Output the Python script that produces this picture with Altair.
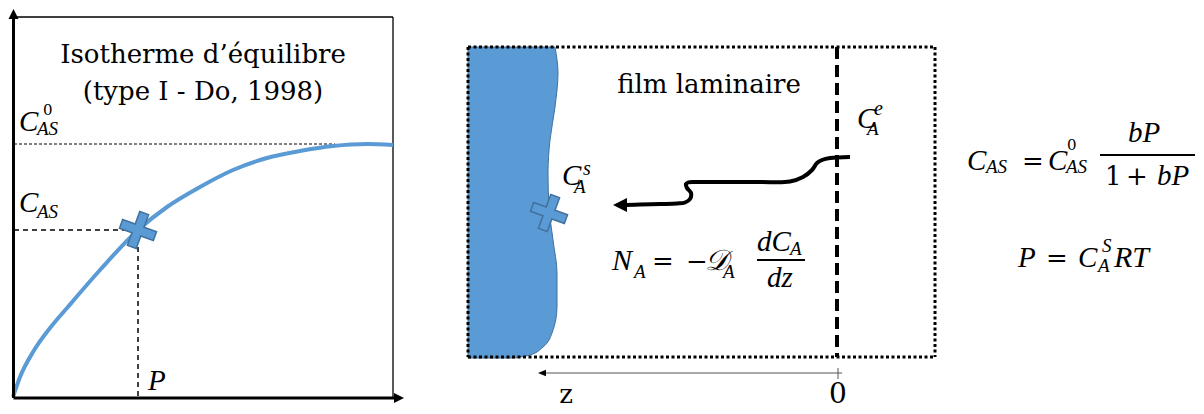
import altair as alt
import pandas as pd

W, H = 1188, 398
FONT = "DejaVu Serif"
MATH = "Liberation Serif"
BLUE = "#5B9BD5"
BLUE_EDGE = "#41719C"

# ---------------- data ----------------
# isotherm curve (left panel)
iso_x = [13, 20, 33, 50, 67, 100, 138, 167, 200, 233, 267, 300, 333, 367, 393]
iso_y = [397, 377, 352, 328, 308, 270, 230, 207, 187, 170, 158, 151, 146, 144, 145]

# adsorbent solid outline (right edge, top to bottom)
solid_y = [47, 73, 107, 140, 173, 207, 240, 273, 307, 333, 347, 355, 358]
solid_x = [555, 558, 555, 550, 548, 549, 553, 557, 557, 552, 543, 530, 515]
solid_left = 468

# concentration profile arrow (right to left)
arr_x = [850, 830, 822, 817, 812, 803, 790, 760, 720, 695, 688, 686, 687, 691, 690, 685, 677, 660, 640, 626]
arr_y = [157, 158, 160, 163, 170, 177, 181.5, 182, 182, 182, 182.5, 184, 188, 193, 199, 202.5, 203.5, 204, 204.5, 205]

# markers (crosses)
cross_x = [138, 549]
cross_y = [230, 213]

# line segments
thick_seg = dict(x=[13.5, 13.5], y=[398, 398], x2=[13.5, 396], y2=[17, 398])
box_seg = dict(x=[13.5, 393], y=[17, 17], x2=[393, 393], y2=[17, 398])
fine_dot_seg = dict(x=[14], y=[144], x2=[335], y2=[144])
dash_seg = dict(x=[14, 138], y=[230, 238], x2=[128, 138], y2=[230, 398])
rect_seg = dict(x=[468, 468, 468, 935], y=[47, 357, 47, 47], x2=[935, 935, 468, 935], y2=[47, 357, 357, 357])
interface_seg = dict(x=[837], y=[47], x2=[837], y2=[357])
zaxis_seg = dict(x=[543, 838], y=[373, 368], x2=[842, 838], y2=[373, 379])
frac_seg = dict(x=[757, 1100], y=[260, 155], x2=[805, 1195], y2=[260, 155])

# arrow heads
head_up = dict(x=[13.5], y=[14])
head_right = dict(x=[399], y=[398])
head_left_big = dict(x=[620], y=[205])
head_left_small = dict(x=[542], y=[373])

# text: italic math pieces (left aligned, baseline)
it_text = ["C", "AS", "C", "AS", "P",
           "C", "s", "A",
           "C", "e", "A",
           "N", "A", "𝒟", "A", "dC", "A", "dz",
           "C", "AS", "C", "AS", "bP", "bP",
           "P", "C", "S", "A", "RT"]
it_x = [19, 37, 19, 37, 148,
        562, 583, 574,
        857, 874, 867,
        612, 634, 705, 723, 757, 790, 767,
        967, 986, 1048, 1066, 1128, 1157,
        1018, 1078, 1102, 1098, 1114]
it_y = [131, 135, 212, 218, 390,
        185, 175, 193,
        128, 115, 135,
        270, 278, 270, 278, 251, 255, 287,
        170, 173, 170, 173, 142, 185,
        267, 267, 252, 272, 267]
it_size = [29, 19, 29, 19, 29,
           29, 20, 19,
           29, 20, 19,
           30, 19, 29, 19, 29, 19, 29,
           29, 19, 29, 19, 29, 29,
           29, 29, 19, 19, 30]

# upright pieces (left aligned)
up_text = ["0", "=", "−", "=", "0", "1", "+", "="]
up_x = [43, 652, 686, 1022, 1067, 1105, 1126, 1046]
up_y = [115, 270, 270, 170, 150, 185, 185, 267]
up_size = [15, 26, 26, 26, 15, 26, 26, 26]

# upright centred text
ct_text = ["Isotherme d’équilibre", "(type I - Do, 1998)", "film laminaire", "z", "0"]
ct_x = [203, 203, 709, 566, 838]
ct_y = [63, 100, 93, 403, 403]
ct_size = [26, 26, 26, 26, 28]

# ---------------- chart ----------------
xs = alt.Scale(domain=[8, 8 + W])
ys = alt.Scale(domain=[8, 8 + H], reverse=True)


def X(f="x"):
    return alt.X(f"{f}:Q", scale=xs, axis=None)


def Y(f="y"):
    return alt.Y(f"{f}:Q", scale=ys, axis=None)


def rules(seg, **kw):
    return alt.Chart(pd.DataFrame(seg)).mark_rule(**kw).encode(
        x=X("x"), y=Y("y"), x2="x2:Q", y2="y2:Q")


def head(pos, path, size, color="black"):
    return alt.Chart(pd.DataFrame(pos)).mark_point(
        shape=path, size=size, filled=True, color=color, opacity=1, strokeWidth=0
    ).encode(x=X(), y=Y())


layers = []

# left panel
layers.append(rules(box_seg, color="black", strokeWidth=1.3))
layers.append(rules(fine_dot_seg, color="black", strokeWidth=1, strokeDash=[3, 2]))
layers.append(rules(dash_seg, color="black", strokeWidth=1.5, strokeDash=[5, 4]))
layers.append(alt.Chart(pd.DataFrame({"x": iso_x, "y": iso_y})).mark_line(
    color=BLUE, strokeWidth=4, interpolate="monotone").encode(x=X(), y=Y()))
layers.append(rules(thick_seg, color="black", strokeWidth=3))
layers.append(head(head_up, "M0,-1L1,1L-1,1Z", 100))
layers.append(head(head_right, "M1,0L-1,-1L-1,1Z", 100))

# middle panel
layers.append(alt.Chart(pd.DataFrame({"y": solid_y, "x": solid_x, "x0": [solid_left] * len(solid_y)}))
              .mark_area(orient="horizontal", color=BLUE, stroke=BLUE_EDGE, strokeWidth=1,
                         interpolate="monotone", opacity=1)
              .encode(y=Y(), x=X(), x2="x0:Q"))
layers.append(rules(rect_seg, color="black", strokeWidth=3, strokeDash=[3, 2.5]))
layers.append(rules(interface_seg, color="black", strokeWidth=4, strokeDash=[12, 6]))
layers.append(alt.Chart(pd.DataFrame({"x": arr_x, "y": arr_y, "i": list(range(len(arr_x)))}))
              .mark_line(color="black", strokeWidth=4, interpolate="catmull-rom", strokeCap="butt")
              .encode(x=X(), y=Y(), order="i:Q"))
layers.append(head(head_left_big, "M-1,0L1,-1L1,1Z", 196))
layers.append(rules(zaxis_seg, color="#555555", strokeWidth=1))
layers.append(head(head_left_small, "M-1,0L1,-0.8L1,0.8Z", 64, color="black"))

# crosses
layers.append(alt.Chart(pd.DataFrame({"x": cross_x, "y": cross_y})).mark_point(
    shape="M-1,-0.26H-0.26V-1H0.26V-0.26H1V0.26H0.26V1H-0.26V0.26H-1Z",
    size=1300, filled=True, fill=BLUE, stroke=BLUE_EDGE, strokeWidth=1.5, opacity=1, angle=20
).encode(x=X(), y=Y()))

# fraction bars
layers.append(rules(frac_seg, color="black", strokeWidth=1.8))

# texts
layers.append(alt.Chart(pd.DataFrame({"x": it_x, "y": it_y, "t": it_text, "s": it_size}))
              .mark_text(font=MATH, fontStyle="italic", align="left", baseline="alphabetic", color="black")
              .encode(x=X(), y=Y(), text="t:N", size=alt.Size("s:Q", scale=None)))
layers.append(alt.Chart(pd.DataFrame({"x": up_x, "y": up_y, "t": up_text, "s": up_size}))
              .mark_text(font=FONT, align="left", baseline="alphabetic", color="black")
              .encode(x=X(), y=Y(), text="t:N", size=alt.Size("s:Q", scale=None)))
layers.append(alt.Chart(pd.DataFrame({"x": ct_x, "y": ct_y, "t": ct_text, "s": ct_size}))
              .mark_text(font=FONT, align="center", baseline="alphabetic", color="black")
              .encode(x=X(), y=Y(), text="t:N", size=alt.Size("s:Q", scale=None)))

chart = alt.layer(*layers).properties(
    width=W, height=H, padding=0,
    autosize=alt.AutoSizeParams(type="none"),
    background="white",
).configure_view(stroke=None)

chart.save("out.html", embed_options={"renderer": "svg", "actions": False})
